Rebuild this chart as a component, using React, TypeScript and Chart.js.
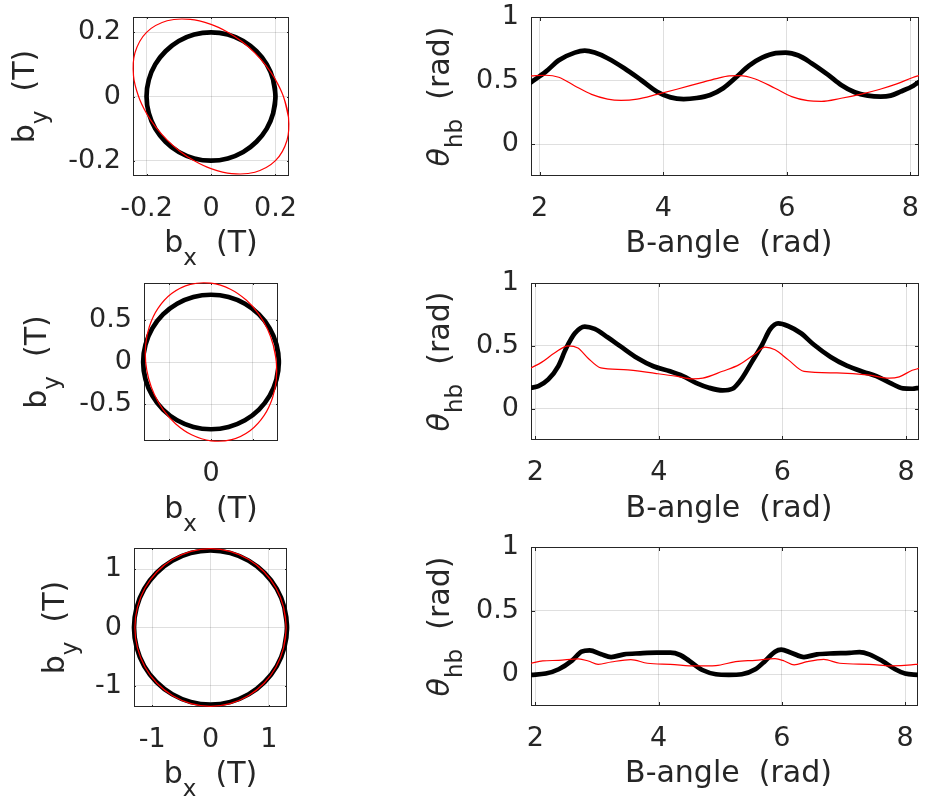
import React, { useEffect, useRef } from 'react';
import { Chart, registerables } from 'chart.js';

Chart.register(...registerables);

type Pt = [number, number];

// ---------------- data ----------------
// Left column: field loci (b_x, b_y), sampled every 15 degrees around the loop
const tlBlack: Pt[] = [
  [0.2, 0], [0.193, 0.052], [0.173, 0.1], [0.141, 0.141], [0.1, 0.173], [0.052, 0.193],
  [0, 0.2], [-0.052, 0.193], [-0.1, 0.173], [-0.141, 0.141], [-0.173, 0.1], [-0.193, 0.052],
  [-0.2, 0], [-0.193, -0.052], [-0.173, -0.1], [-0.141, -0.141], [-0.1, -0.173], [-0.052, -0.193],
  [0, -0.2], [0.052, -0.193], [0.1, -0.173], [0.141, -0.141], [0.173, -0.1], [0.193, -0.052],
];
const tlRed: Pt[] = [
  [0.2247, 0], [0.1995, 0.0535], [0.1695, 0.0978], [0.1358, 0.1358], [0.0978, 0.1695], [0.0535, 0.1995],
  [0, 0.2247], [-0.0644, 0.2404], [-0.1362, 0.2359], [-0.2, 0.2], [-0.2359, 0.1362], [-0.2404, 0.0644],
  [-0.2247, 0], [-0.1995, -0.0535], [-0.1695, -0.0978], [-0.1358, -0.1358], [-0.0978, -0.1695], [-0.0535, -0.1995],
  [0, -0.2247], [0.0644, -0.2404], [0.1362, -0.2359], [0.2, -0.2], [0.2359, -0.1362], [0.2404, -0.0644],
];
const mlBlack: Pt[] = [
  [0.81, 0], [0.782, 0.207], [0.701, 0.4], [0.573, 0.566], [0.405, 0.693], [0.21, 0.773],
  [0, 0.8], [-0.21, 0.773], [-0.405, 0.693], [-0.573, 0.566], [-0.701, 0.4], [-0.782, 0.207],
  [-0.81, 0], [-0.782, -0.207], [-0.701, -0.4], [-0.573, -0.566], [-0.405, -0.693], [-0.21, -0.773],
  [0, -0.8], [0.21, -0.773], [0.405, -0.693], [0.573, -0.566], [0.701, -0.4], [0.782, -0.207],
];
const mlRed: Pt[] = [
  [0.78, 0], [0.744, 0.199], [0.675, 0.39], [0.57, 0.57], [0.424, 0.734], [0.232, 0.866],
  [0, 0.938], [-0.247, 0.923], [-0.47, 0.814], [-0.635, 0.635], [-0.735, 0.425], [-0.78, 0.209],
  [-0.78, 0], [-0.744, -0.199], [-0.675, -0.39], [-0.57, -0.57], [-0.424, -0.734], [-0.232, -0.866],
  [0, -0.938], [0.247, -0.923], [0.47, -0.814], [0.635, -0.635], [0.735, -0.425], [0.78, -0.209],
];
const blBlack: Pt[] = [
  [1.31, 0], [1.265, 0.342], [1.135, 0.66], [0.926, 0.933], [0.655, 1.143], [0.339, 1.275],
  [0, 1.32], [-0.339, 1.275], [-0.655, 1.143], [-0.926, 0.933], [-1.135, 0.66], [-1.265, 0.342],
  [-1.31, 0], [-1.265, -0.342], [-1.135, -0.66], [-0.926, -0.933], [-0.655, -1.143], [-0.339, -1.275],
  [0, -1.32], [0.339, -1.275], [0.655, -1.143], [0.926, -0.933], [1.135, -0.66], [1.265, -0.342],
];
const blRed: Pt[] = [
  [1.295, 0], [1.251, 0.349], [1.122, 0.675], [0.916, 0.955], [0.648, 1.169], [0.335, 1.304],
  [0, 1.35], [-0.335, 1.304], [-0.648, 1.169], [-0.916, 0.955], [-1.122, 0.675], [-1.251, 0.349],
  [-1.295, 0], [-1.251, -0.349], [-1.122, -0.675], [-0.916, -0.955], [-0.648, -1.169], [-0.335, -1.304],
  [0, -1.35], [0.335, -1.304], [0.648, -1.169], [0.916, -0.955], [1.122, -0.675], [1.251, -0.349],
];

// Right column: theta_hb (rad) versus B-angle (rad)
const trBlack: Pt[] = [
  [1.86, 0.487], [2.1, 0.57], [2.31, 0.66], [2.57, 0.72], [2.73, 0.735], [2.89, 0.72], [3.1, 0.676],
  [3.37, 0.597], [3.64, 0.505], [3.9, 0.413], [4.12, 0.368], [4.33, 0.355], [4.54, 0.363], [4.76, 0.387],
  [4.97, 0.44], [5.18, 0.526], [5.39, 0.618], [5.6, 0.68], [5.82, 0.716], [5.98, 0.72], [6.19, 0.697],
  [6.4, 0.637], [6.67, 0.545], [6.88, 0.466], [7.1, 0.408], [7.31, 0.382], [7.52, 0.374], [7.68, 0.382],
  [7.84, 0.413], [8.05, 0.46], [8.14, 0.49],
];
const trRed: Pt[] = [
  [1.86, 0.537], [2.1, 0.542], [2.31, 0.526], [2.57, 0.458], [2.84, 0.392], [3.1, 0.355], [3.32, 0.345],
  [3.58, 0.355], [3.9, 0.392], [4.22, 0.432], [4.54, 0.474], [4.86, 0.516], [5.07, 0.537], [5.23, 0.539],
  [5.49, 0.513], [5.81, 0.44], [6.08, 0.374], [6.34, 0.342], [6.56, 0.337], [6.88, 0.361], [7.19, 0.392],
  [7.51, 0.432], [7.78, 0.474], [8.04, 0.524], [8.14, 0.54],
];
const mrBlack: Pt[] = [
  [1.93, 0.166], [2.05, 0.179], [2.21, 0.232], [2.37, 0.337], [2.5, 0.482], [2.64, 0.6], [2.8, 0.653],
  [2.96, 0.634], [3.17, 0.568], [3.38, 0.495], [3.65, 0.403], [3.91, 0.337], [4.18, 0.297], [4.39, 0.258],
  [4.6, 0.205], [4.81, 0.166], [5.03, 0.145], [5.19, 0.158], [5.35, 0.245], [5.51, 0.376], [5.67, 0.508],
  [5.8, 0.632], [5.93, 0.679], [6.09, 0.658], [6.3, 0.6], [6.51, 0.508], [6.78, 0.411], [7.04, 0.342],
  [7.31, 0.292], [7.52, 0.258], [7.74, 0.205], [7.95, 0.161], [8.1, 0.158], [8.21, 0.166],
];
const mrRed: Pt[] = [
  [1.93, 0.324], [2.1, 0.368], [2.31, 0.442], [2.53, 0.5], [2.69, 0.482], [2.85, 0.403], [3.06, 0.324],
  [3.43, 0.311], [3.96, 0.279], [4.28, 0.258], [4.55, 0.237], [4.71, 0.242], [5.03, 0.297], [5.3, 0.35],
  [5.56, 0.437], [5.72, 0.489], [5.88, 0.468], [6.09, 0.39], [6.35, 0.297], [6.88, 0.284], [7.41, 0.266],
  [7.73, 0.242], [7.89, 0.253], [8.1, 0.305], [8.21, 0.32],
];
const brBlack: Pt[] = [
  [1.93, -0.005], [2.17, 0.005], [2.38, 0.039], [2.6, 0.109], [2.75, 0.177], [2.88, 0.187], [3.07, 0.156],
  [3.23, 0.135], [3.44, 0.156], [3.7, 0.164], [3.97, 0.169], [4.19, 0.169], [4.35, 0.151], [4.5, 0.104],
  [4.72, 0.031], [4.93, 0.0], [5.14, -0.005], [5.35, 0.0], [5.57, 0.039], [5.73, 0.104], [5.89, 0.177],
  [5.99, 0.193], [6.15, 0.169], [6.36, 0.135], [6.57, 0.156], [6.84, 0.164], [7.1, 0.167], [7.26, 0.174],
  [7.42, 0.156], [7.63, 0.104], [7.84, 0.039], [8.0, 0.005], [8.21, -0.005],
];
const brRed: Pt[] = [
  [1.93, 0.086], [2.12, 0.104], [2.38, 0.109], [2.7, 0.12], [2.86, 0.104], [3.02, 0.078], [3.23, 0.096],
  [3.55, 0.115], [3.82, 0.086], [4.19, 0.078], [4.61, 0.065], [4.93, 0.068], [5.25, 0.099], [5.57, 0.109],
  [5.89, 0.122], [6.04, 0.104], [6.2, 0.073], [6.41, 0.099], [6.68, 0.117], [6.94, 0.086], [7.42, 0.078],
  [7.79, 0.065], [8.1, 0.073], [8.21, 0.08],
];

// ticks
const tlTicks = [-0.2, 0, 0.2];
const tlTickLabels = ['-0.2', '0', '0.2'];
const mlXTicks = [-0.5, 0, 0.5];
const mlXTickLabels = ['', '0', ''];
const mlYTicks = [-0.5, 0, 0.5];
const mlYTickLabels = ['-0.5', '0', '0.5'];
const blTicks = [-1, 0, 1];
const blTickLabels = ['-1', '0', '1'];
const angleTicks = [2, 4, 6, 8];
const angleTickLabels = ['2', '4', '6', '8'];
const thetaTicks = [0, 0.5, 1];
const thetaTickLabels = ['0', '0.5', '1'];

// ---------------- styling ----------------
const FONT = '"DejaVu Sans", sans-serif';
const TICK = 27;
const LAB = 30;
const SUB = 23;
const SUBDY = 13;
const AX = '#262626';
const GRID = 'rgba(38,38,38,0.15)';
const RED = '#ff0000';
const BLACK = '#000000';

type Run = { t: string; size: number; italic?: boolean; dy?: number };

const bxTitle: Run[] = [{ t: 'b', size: LAB }, { t: 'x', size: SUB, dy: SUBDY }, { t: '  (T)', size: LAB }];
const byTitle: Run[] = [{ t: 'b', size: LAB }, { t: 'y', size: SUB, dy: SUBDY }, { t: '  (T)', size: LAB }];
const angTitle: Run[] = [{ t: 'B-angle  (rad)', size: LAB }];
const thTitle: Run[] = [{ t: '\u03B8', size: LAB, italic: true }, { t: 'hb', size: SUB, dy: SUBDY }, { t: '  (rad)', size: LAB }];

interface Panel {
  canvas: { x: number; y: number; w: number; h: number };
  area: { l: number; t: number; r: number; b: number };
  xRange: [number, number];
  yRange: [number, number];
  xTicks: number[];
  xLabels: string[];
  yTicks: number[];
  yLabels: string[];
  black: Pt[];
  red: Pt[];
  closed: boolean;
  xTitle: Run[];
  yTitle: Run[];
  xTitleY: number;
  xTitleShift: number;
  yTitleX: number;
  tickLen: number;
}

const panels: Panel[] = [
  {
    canvas: { x: 0, y: 0, w: 300, h: 280 }, area: { l: 133, t: 17, r: 289, b: 176 },
    xRange: [-0.242, 0.242], yRange: [-0.2477, 0.2477],
    xTicks: tlTicks, xLabels: tlTickLabels, yTicks: tlTicks, yLabels: tlTickLabels,
    black: tlBlack, red: tlRed, closed: true,
    xTitle: bxTitle, yTitle: byTitle, xTitleY: 252, xTitleShift: 0, yTitleX: 34, tickLen: 2,
  },
  {
    canvas: { x: 0, y: 266, w: 300, h: 280 }, area: { l: 144, t: 283, r: 278, b: 441 },
    xRange: [-0.8, 0.8], yRange: [-0.94, 0.94],
    xTicks: mlXTicks, xLabels: mlXTickLabels, yTicks: mlYTicks, yLabels: mlYTickLabels,
    black: mlBlack, red: mlRed, closed: true,
    xTitle: bxTitle, yTitle: byTitle, xTitleY: 518, xTitleShift: 0, yTitleX: 46, tickLen: 2,
  },
  {
    canvas: { x: 0, y: 530, w: 300, h: 274 }, area: { l: 134, t: 548, r: 287, b: 707 },
    xRange: [-1.31, 1.31], yRange: [-1.361, 1.361],
    xTicks: blTicks, xLabels: blTickLabels, yTicks: blTicks, yLabels: blTickLabels,
    black: blBlack, red: blRed, closed: true,
    xTitle: bxTitle, yTitle: byTitle, xTitleY: 783, xTitleShift: 0, yTitleX: 64, tickLen: 2,
  },
  {
    canvas: { x: 400, y: 0, w: 532, h: 280 }, area: { l: 531, t: 17, r: 919, b: 176 },
    xRange: [1.86, 8.14], yRange: [-0.25, 1],
    xTicks: angleTicks, xLabels: angleTickLabels, yTicks: thetaTicks, yLabels: thetaTickLabels,
    black: trBlack, red: trRed, closed: false,
    xTitle: angTitle, yTitle: thTitle, xTitleY: 252, xTitleShift: 4, yTitleX: 449, tickLen: 4,
  },
  {
    canvas: { x: 400, y: 266, w: 532, h: 280 }, area: { l: 531, t: 283, r: 919, b: 440 },
    xRange: [1.93, 8.21], yRange: [-0.25, 1],
    xTicks: angleTicks, xLabels: angleTickLabels, yTicks: thetaTicks, yLabels: thetaTickLabels,
    black: mrBlack, red: mrRed, closed: false,
    xTitle: angTitle, yTitle: thTitle, xTitleY: 517, xTitleShift: 4, yTitleX: 449, tickLen: 4,
  },
  {
    canvas: { x: 400, y: 530, w: 532, h: 274 }, area: { l: 531, t: 547, r: 918, b: 706 },
    xRange: [1.93, 8.21], yRange: [-0.25, 1],
    xTicks: angleTicks, xLabels: angleTickLabels, yTicks: thetaTicks, yLabels: thetaTickLabels,
    black: brBlack, red: brRed, closed: false,
    xTitle: angTitle, yTitle: thTitle, xTitleY: 782, xTitleShift: 4, yTitleX: 449, tickLen: 4,
  },
];

function fontStr(r: Run) {
  return `${r.italic ? 'italic ' : ''}${r.size}px ${FONT}`;
}

function drawRuns(ctx: CanvasRenderingContext2D, runs: Run[], cx: number, cy: number, rotate: boolean) {
  ctx.save();
  ctx.translate(cx, cy);
  if (rotate) ctx.rotate(-Math.PI / 2);
  ctx.fillStyle = AX;
  ctx.textBaseline = 'alphabetic';
  ctx.textAlign = 'left';
  const widths = runs.map((r) => {
    ctx.font = fontStr(r);
    return ctx.measureText(r.t).width;
  });
  const total = widths.reduce((a, b) => a + b, 0);
  let x = -total / 2;
  runs.forEach((r, i) => {
    ctx.font = fontStr(r);
    ctx.fillText(r.t, x, r.dy || 0);
    x += widths[i];
  });
  ctx.restore();
}

function framePlugin(p: Panel) {
  return {
    id: 'frame',
    beforeDatasetsDraw(chart: any) {
      const { ctx, chartArea: a, scales } = chart;
      ctx.save();
      ctx.strokeStyle = AX;
      ctx.lineWidth = 1;
      ctx.beginPath();
      for (const v of p.xTicks) {
        const px = Math.round(scales.x.getPixelForValue(v)) + 0.5;
        ctx.moveTo(px, a.bottom);
        ctx.lineTo(px, a.bottom - p.tickLen);
        ctx.moveTo(px, a.top);
        ctx.lineTo(px, a.top + p.tickLen);
      }
      for (const v of p.yTicks) {
        const py = Math.round(scales.y.getPixelForValue(v)) + 0.5;
        ctx.moveTo(a.left, py);
        ctx.lineTo(a.left + p.tickLen, py);
        ctx.moveTo(a.right, py);
        ctx.lineTo(a.right - p.tickLen, py);
      }
      ctx.stroke();
      ctx.strokeRect(a.left + 0.5, a.top + 0.5, a.right - a.left - 1, a.bottom - a.top - 1);
      ctx.restore();
    },
    afterDraw(chart: any) {
      const { ctx, chartArea: a } = chart;
      drawRuns(ctx, p.xTitle, (a.left + a.right) / 2 + p.xTitleShift, p.xTitleY - p.canvas.y, false);
      drawRuns(ctx, p.yTitle, p.yTitleX - p.canvas.x, (a.top + a.bottom) / 2, true);
    },
  };
}

function PanelChart({ p }: { p: Panel }) {
  const ref = useRef<HTMLCanvasElement>(null);
  useEffect(() => {
    const canvas = ref.current;
    if (!canvas) return;
    const toData = (pts: Pt[]) => {
      const src = p.closed ? [pts[pts.length - 1], ...pts, pts[0], pts[1]] : pts;
      return src.map(([x, y]) => ({ x, y }));
    };
    const lineOpts: any = p.closed ? { tension: 0.34, clip: false } : { cubicInterpolationMode: 'monotone' };
    const tickFont = { family: FONT, size: TICK };
    const chart = new Chart(canvas, {
      type: 'scatter',
      data: {
        datasets: [
          { data: toData(p.red), borderColor: RED, borderWidth: 1.2, showLine: true, pointRadius: 0, ...lineOpts },
          { data: toData(p.black), borderColor: BLACK, borderWidth: 4.7, showLine: true, pointRadius: 0, ...lineOpts },
        ],
      },
      options: {
        animation: false,
        responsive: false,
        events: [],
        layout: {
          padding: {
            left: 0,
            top: p.area.t - p.canvas.y,
            right: p.canvas.x + p.canvas.w - p.area.r,
            bottom: 0,
          },
        },
        elements: { line: { capBezierPoints: false, borderCapStyle: 'round', borderJoinStyle: 'round' } as any },
        plugins: { legend: { display: false }, tooltip: { enabled: false } },
        scales: {
          x: {
            type: 'linear',
            position: 'bottom',
            min: p.xRange[0],
            max: p.xRange[1],
            afterBuildTicks: (s: any) => {
              s.ticks = p.xTicks.map((v) => ({ value: v }));
            },
            afterFit: (s: any) => {
              s.height = p.canvas.y + p.canvas.h - p.area.b;
              s.paddingLeft = 0;
              s.paddingRight = 0;
            },
            ticks: {
              callback: (_v: any, i: number) => p.xLabels[i],
              font: tickFont,
              color: AX,
              padding: 17,
              maxRotation: 0,
              autoSkip: false,
            },
            grid: { color: GRID, lineWidth: 1, drawTicks: false },
            border: { display: false },
          },
          y: {
            type: 'linear',
            position: 'left',
            min: p.yRange[0],
            max: p.yRange[1],
            afterBuildTicks: (s: any) => {
              s.ticks = p.yTicks.map((v) => ({ value: v }));
            },
            afterFit: (s: any) => {
              s.width = p.area.l - p.canvas.x;
              s.paddingTop = 0;
              s.paddingBottom = 0;
            },
            ticks: {
              callback: (_v: any, i: number) => p.yLabels[i],
              font: tickFont,
              color: AX,
              padding: 12,
              autoSkip: false,
            },
            grid: { color: GRID, lineWidth: 1, drawTicks: false },
            border: { display: false },
          },
        },
      } as any,
      plugins: [framePlugin(p)],
    });
    return () => chart.destroy();
  }, [p]);
  return (
    <canvas
      ref={ref}
      width={p.canvas.w}
      height={p.canvas.h}
      style={{ position: 'absolute', left: p.canvas.x, top: p.canvas.y, width: p.canvas.w, height: p.canvas.h }}
    />
  );
}

export default function App() {
  return (
    <div style={{ position: 'absolute', left: 0, top: 0, width: 932, height: 804, background: '#ffffff', overflow: 'hidden' }}>
      {panels.map((p, i) => (
        <PanelChart key={i} p={p} />
      ))}
    </div>
  );
}
